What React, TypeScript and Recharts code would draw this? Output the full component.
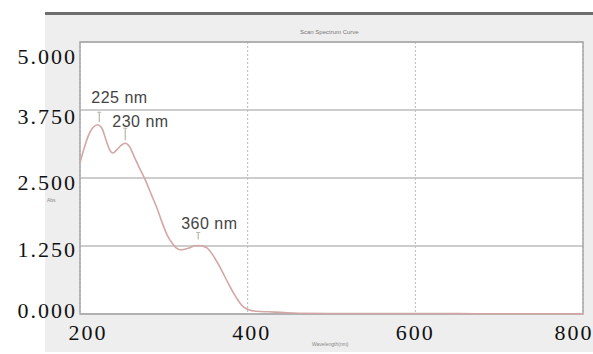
import { LineChart, Line, XAxis, YAxis, CartesianGrid, ReferenceArea, ReferenceDot } from 'recharts'

const wavelengths = [
  200, 205, 210, 215, 221, 226, 231, 235, 239, 244, 249, 254, 259, 265, 271, 278, 285, 292, 298, 304,
  310, 315, 319, 325, 331, 336, 341, 346, 351, 355, 361, 367, 373, 378, 383, 389, 395, 401, 411, 425,
  440, 460, 500, 600, 700, 800,
]
const absorbance = [
  2.78, 3.05, 3.28, 3.42, 3.48, 3.42, 3.2, 3.03, 2.96, 3.02, 3.1, 3.14, 3.08, 2.88, 2.68, 2.46, 2.2, 1.94, 1.68, 1.45,
  1.3, 1.21, 1.18, 1.19, 1.22, 1.25, 1.26, 1.25, 1.22, 1.16, 1.02, 0.86, 0.68, 0.53, 0.39, 0.24, 0.13, 0.08, 0.05, 0.04,
  0.03, 0.015, 0.01, 0.01, 0.005, 0.005,
]
const xTicks = [200, 400, 600, 800]
const yTicks = [0, 1.25, 2.5, 3.75, 5]
const yTickLabels = ['0.000', '1.250', '2.500', '3.750', '5.000']

const peakWl = [223, 254, 341]
const peakAbs = [3.47, 3.14, 1.26]
const peakLabels = ['225 nm', '230 nm', '360 nm']

const data = wavelengths.map((wl, i) => ({ wl, abs: absorbance[i] }))

const serif = '"Liberation Serif", "Times New Roman", serif'
const sans = '"Liberation Sans", Arial, sans-serif'

// label nudges to sit like the scanned original
const yLabelDy = [-3, 4, 5, 7, 15]
const xLabelDx = [8, 4, 0, -9]
const peakOffsets = [
  { dx: -8, dy: -22, lineTop: -13, lineBottom: -3 },
  { dx: -13, dy: -16, lineTop: -15, lineBottom: -3 },
  { dx: -17, dy: -16, lineTop: -13, lineBottom: -6 },
]

function YTick(props: any) {
  const { y, index } = props
  return (
    <text x={77} y={y} dy={yLabelDy[index] + 7} textAnchor="end" fontFamily={serif} fontSize={22} letterSpacing={2} fill="#111">
      {yTickLabels[index]}
    </text>
  )
}

function XTick(props: any) {
  const { x, payload, index } = props
  return (
    <text x={x + xLabelDx[index]} y={340} textAnchor="middle" fontFamily={serif} fontSize={22} letterSpacing={2} fill="#111">
      {payload.value}
    </text>
  )
}

function PeakMark(i: number) {
  return (props: any) => {
    const { cx, cy } = props
    const o = peakOffsets[i]
    return (
      <g>
        <line x1={cx} x2={cx} y1={cy + o.lineTop} y2={cy + o.lineBottom} stroke="#b8b8a8" strokeWidth={1.2} />
        <line x1={cx - 2} x2={cx + 2} y1={cy + o.lineTop} y2={cy + o.lineTop} stroke="#b8b8a8" strokeWidth={1} />
        <text x={cx + o.dx} y={cy + o.dy} fontFamily={sans} fontSize={16} letterSpacing={0.5} fill="#444">
          {peakLabels[i]}
        </text>
      </g>
    )
  }
}

export default function App() {
  return (
    <div style={{ position: 'absolute', left: 0, top: 0, width: 593, height: 354, background: '#fff', overflow: 'hidden' }}>
      <div style={{ position: 'absolute', left: 45, top: 13, width: 548, height: 339, background: '#eeeeee' }} />
      <div style={{ position: 'absolute', left: 45, top: 12, width: 548, height: 3, background: '#6e6e6e' }} />
      <div style={{ position: 'absolute', left: 300, top: 29, fontFamily: sans, fontSize: 6, color: '#777' }}>Scan Spectrum Curve</div>
      <div style={{ position: 'absolute', left: 47, top: 197, fontFamily: sans, fontSize: 5, lineHeight: '6px', color: '#888' }}>Abs</div>
      <div style={{ position: 'absolute', left: 312, top: 341, fontFamily: sans, fontSize: 5, color: '#888' }}>Wavelength(nm)</div>
      <div style={{ position: 'absolute', left: 0, top: 0 }}>
        <LineChart width={593} height={354} data={data} margin={{ top: 42, right: 10, bottom: 10, left: 0 }}>
          <CartesianGrid vertical={false} stroke="#bdbdbd" strokeWidth={1.5} fill="#ffffff" />
          <CartesianGrid horizontal={false} stroke="#b8b8b8" strokeDasharray="2 2" />
          <XAxis
            dataKey="wl"
            type="number"
            domain={[200, 800]}
            ticks={xTicks}
            height={30}
            axisLine={false}
            tickLine={false}
            tick={<XTick />}
            interval={0}
          />
          <YAxis
            type="number"
            domain={[0, 5]}
            ticks={yTicks}
            width={80}
            axisLine={false}
            tickLine={false}
            tick={<YTick />}
            interval={0}
          />
          <ReferenceArea x1={200} x2={800} y1={0} y2={5} fill="none" stroke="#a8a8a8" strokeWidth={1.5} />
          <Line
            type="monotone"
            dataKey="abs"
            stroke="#d4a7a7"
            strokeWidth={1.6}
            dot={false}
            isAnimationActive={false}
          />
          {peakWl.map((wl, i) => (
            <ReferenceDot key={wl} x={wl} y={peakAbs[i]} r={0} shape={PeakMark(i)} />
          ))}
        </LineChart>
      </div>
    </div>
  )
}
